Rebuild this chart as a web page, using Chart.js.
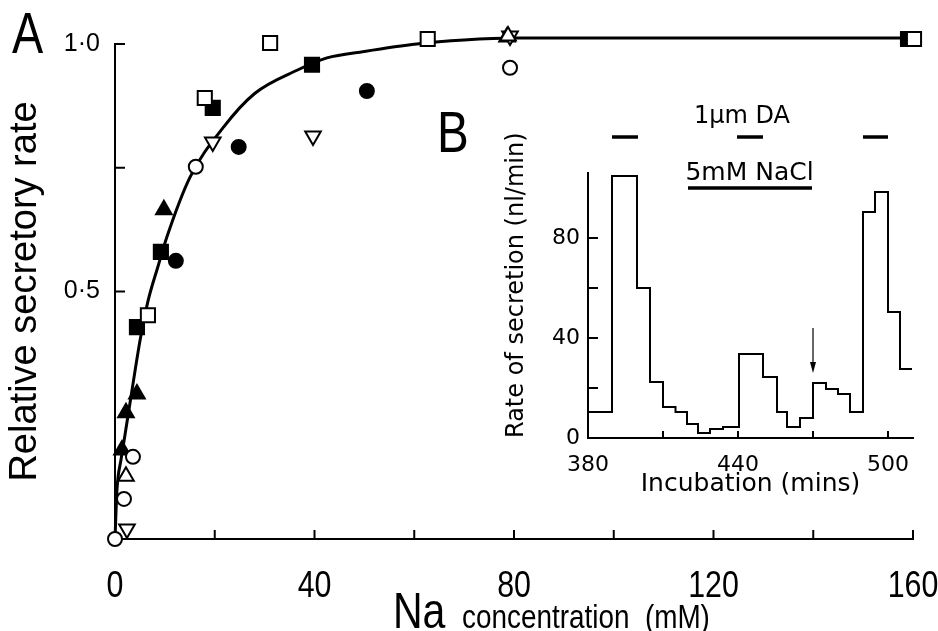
<!DOCTYPE html>
<html><head><meta charset="utf-8">
<script src="https://cdn.jsdelivr.net/npm/chart.js@4.4.1/dist/chart.umd.min.js"></script>
<style>
html,body{margin:0;padding:0;background:#fff;}
#wrap{position:relative;width:938px;height:631px;overflow:hidden;background:#fff;}
#main{position:absolute;left:0;top:0;}
#inset{position:absolute;left:480px;top:95px;}
</style></head><body>
<div id="wrap">
<canvas id="main" width="938" height="631"></canvas>
<canvas id="inset" width="458" height="410"></canvas>
</div>
<script>
// ================= Panel A data (Na concentration, mM vs relative secretory rate) =================
const openSquareX   = [6.6, 18.0, 31.1, 62.7, 160.2];
const openSquareY   = [0.452, 0.891, 1.002, 1.010, 1.010];
const filledSquareX = [4.4, 9.2, 19.6, 39.5, 159.0];
const filledSquareY = [0.428, 0.580, 0.871, 0.958, 1.010];
const filledCircleX = [12.2, 24.8, 50.5];
const filledCircleY = [0.562, 0.792, 0.905];
const openCircleX   = [0.0, 1.8, 3.6, 16.2, 79.2];
const openCircleY   = [0.000, 0.081, 0.166, 0.752, 0.952];
const openTriUpX    = [2.2, 78.8];
const openTriUpY    = [0.127, 1.016];
const openTriDownX  = [2.4, 19.6, 39.7, 79.2];
const openTriDownY  = [0.020, 0.802, 0.814, 1.016];
const filledTriX    = [1.4, 2.2, 4.4, 9.8, 78.6];
const filledTriY    = [0.180, 0.255, 0.293, 0.665, 1.014];
// fitted curve
const curveX = [0, 0.4, 1.2, 2.0, 3.4, 5.0, 6.6, 8.6, 10.4, 15.0, 21.6, 28.0, 36.5, 42.5, 50, 60.5, 70, 80, 100, 130, 160];
const curveY = [0, 0.10, 0.16, 0.21, 0.30, 0.40, 0.48, 0.55, 0.61, 0.73, 0.83, 0.90, 0.947, 0.972, 0.985, 1.0, 1.008, 1.012, 1.012, 1.012, 1.012];
const xTickLabelsA = [0, 40, 80, 120, 160];
const yTickLabelsA = {0.5: '0·5', 1: '1·0'};
const yTickMarksA = [0.5, 0.75, 1.0];
const xTitleBig = 'Na';
const xTitleSmall = 'concentration  (mM)';
const yTitleA = 'Relative secretory rate';
const panelA = 'A', panelB = 'B';

// ================= Panel B data (incubation, mins vs rate of secretion) =================
const stepStart = [380, 389.6, 399.6, 404.8, 410, 415, 419.6, 424, 428.8, 434, 440.4, 450, 455.6, 459.6, 464.8, 470, 475.2, 480, 484.8, 490, 494.8, 500, 504.8, 509.6];
const stepRate  = [10.4, 104.8, 60, 22.4, 12.4, 10.4, 5.6, 2, 3.6, 4.4, 33.6, 24.4, 10.4, 4.4, 8, 22, 19.6, 17.6, 10.4, 90.4, 98.4, 50.4, 27.6, 27.6];
const daStart = [389.6, 439.6, 490];
const daEnd   = [400, 450, 500];
const daLevel = 120.4;
const daLabel = '1μm DA';
const daLabelPos = [441.6, 129.6];
const naclStart = 420, naclEnd = 469.6, naclLevel = 100;
const naclLabel = '5mM NaCl';
const naclLabelPos = [444.6, 107];
const arrowX = 470, arrowFrom = 44, arrowTo = 26;
const xTickMarksB = [380, 410, 440, 470, 500];
const xTickLabelsB = [380, 440, 500];
const yTickLabelsB = [0, 40, 80];
const xTitleB = 'Incubation (mins)';
const yTitleB = 'Rate of secretion (nl/min)';

// ================= helpers =================
const SANS = "'Liberation Sans', Arial, sans-serif";
const WIDE = "'DejaVu Sans', sans-serif";
const NARROW_K = 0.82;
function pts(xs, ys) { return xs.map((x, i) => ({x: x, y: ys[i]})); }
function markers(label, xs, ys, style, filled, rot, r) {
  return {
    label: label, data: pts(xs, ys), showLine: false, clip: false, order: 1,
    pointStyle: style, pointRotation: rot || 0, pointRadius: r, pointHoverRadius: r,
    pointBackgroundColor: filled ? '#000' : '#fff', pointBorderColor: '#000', pointBorderWidth: 2
  };
}
function seg(ctx, x1, y1, x2, y2) { ctx.beginPath(); ctx.moveTo(x1, y1); ctx.lineTo(x2, y2); ctx.stroke(); }
// condensed sans text (Helvetica-narrow look of the original)
function narrowText(ctx, text, x, y, size, align) {
  ctx.save();
  ctx.font = size + 'px ' + SANS;
  ctx.translate(x, y); ctx.scale(NARROW_K, 1);
  ctx.textAlign = align; ctx.textBaseline = 'alphabetic';
  ctx.fillText(text, 0, 0);
  ctx.restore();
}

// ================= Panel A chart =================
const mainPlugin = {
  id: 'mainDecor',
  afterDraw(chart) {
    const {ctx, chartArea: a} = chart;
    const x = chart.scales.x, y = chart.scales.y;
    ctx.save();
    ctx.strokeStyle = '#000'; ctx.fillStyle = '#000'; ctx.lineWidth = 2;
    x.ticks.forEach(t => { if (t.value <= 0) return; const px = x.getPixelForValue(t.value); seg(ctx, px, a.bottom, px, a.bottom - 9); });
    yTickMarksA.forEach(v => { const py = y.getPixelForValue(v); seg(ctx, a.left, py, a.left + 10, py); });
    // x tick labels in condensed face
    xTickLabelsA.forEach(v => narrowText(ctx, String(v), x.getPixelForValue(v), a.bottom + 58, 37, 'center'));
    narrowText(ctx, panelA, 12, 53, 57, 'left');
    narrowText(ctx, panelB, 437, 152, 58, 'left');
    narrowText(ctx, xTitleBig, 393, 628, 50, 'left');
    narrowText(ctx, xTitleSmall, 462, 628, 34, 'left');
    ctx.restore();
  }
};

new Chart(document.getElementById('main'), {
  type: 'scatter',
  data: {
    datasets: [
      markers('open square', openSquareX, openSquareY, 'rect', false, 0, 10),
      markers('filled square', filledSquareX, filledSquareY, 'rect', true, 0, 10),
      markers('filled circle', filledCircleX, filledCircleY, 'circle', true, 0, 7),
      markers('open circle', openCircleX, openCircleY, 'circle', false, 0, 7),
      markers('open triangle', openTriUpX, openTriUpY, 'triangle', false, 0, 9),
      markers('open inverted triangle', openTriDownX, openTriDownY, 'triangle', false, 180, 9),
      markers('filled triangle', filledTriX, filledTriY, 'triangle', true, 0, 9),
      { label: 'fit', data: pts(curveX, curveY), showLine: true, pointRadius: 0, borderColor: '#000',
        borderWidth: 3, cubicInterpolationMode: 'monotone', clip: false, order: 10 }
    ]
  },
  options: {
    responsive: false, animation: false, devicePixelRatio: 1,
    layout: { autoPadding: false, padding: { left: 0, top: 44, right: 25, bottom: 0 } },
    plugins: { legend: { display: false }, tooltip: { enabled: false } },
    scales: {
      x: {
        type: 'linear', min: 0, max: 160,
        afterFit(s) { s.height = 92; },
        border: { display: true, color: '#000', width: 2 },
        grid: { display: false, drawTicks: false },
        ticks: { display: false, stepSize: 20, autoSkip: false, maxRotation: 0 }
      },
      y: {
        type: 'linear', min: 0, max: 1,
        afterFit(s) { s.width = 115; },
        border: { display: true, color: '#000', width: 2 },
        grid: { display: false, drawTicks: false },
        ticks: { stepSize: 0.25, padding: 15, color: '#000', font: { family: SANS, size: 25 },
          callback: v => yTickLabelsA[v] || '' },
        title: { display: true, text: yTitleA, color: '#000', font: { family: SANS, size: 38 }, padding: { top: 3, bottom: 0 } }
      }
    }
  },
  plugins: [mainPlugin]
});

// ================= Panel B (inset) chart =================
const insetPlugin = {
  id: 'insetDecor',
  afterDraw(chart) {
    const {ctx, chartArea: a} = chart;
    const x = chart.scales.x, y = chart.scales.y;
    ctx.save();
    ctx.strokeStyle = '#000'; ctx.fillStyle = '#000'; ctx.lineWidth = 2;
    y.ticks.forEach(t => { if (t.value <= 0 || t.value % 20 !== 0) return; const py = y.getPixelForValue(t.value); seg(ctx, a.left, py, a.left + 10, py); });
    x.ticks.forEach(t => { if (t.value <= 380) return; const px = x.getPixelForValue(t.value); seg(ctx, px, a.bottom, px, a.bottom - 7); });
    ctx.lineWidth = 3.5;
    daStart.forEach((s, i) => { const py = y.getPixelForValue(daLevel); seg(ctx, x.getPixelForValue(s), py, x.getPixelForValue(daEnd[i]), py); });
    const ny = y.getPixelForValue(naclLevel);
    seg(ctx, x.getPixelForValue(naclStart), ny, x.getPixelForValue(naclEnd), ny);
    ctx.textAlign = 'center'; ctx.textBaseline = 'alphabetic';
    ctx.font = '24px ' + WIDE;
    ctx.fillText(daLabel, x.getPixelForValue(daLabelPos[0]), y.getPixelForValue(daLabelPos[1]) + 9);
    ctx.font = '25px ' + WIDE;
    ctx.fillText(naclLabel, x.getPixelForValue(naclLabelPos[0]), y.getPixelForValue(naclLabelPos[1]) + 9);
    // arrow
    const ax = x.getPixelForValue(arrowX), ay1 = y.getPixelForValue(arrowFrom), ay2 = y.getPixelForValue(arrowTo);
    ctx.lineWidth = 1.2; seg(ctx, ax, ay1, ax, ay2 - 6);
    ctx.beginPath(); ctx.moveTo(ax - 3, ay2 - 11); ctx.lineTo(ax + 3, ay2 - 11); ctx.lineTo(ax, ay2); ctx.closePath(); ctx.fill();
    ctx.restore();
  }
};

new Chart(document.getElementById('inset'), {
  type: 'scatter',
  data: {
    datasets: [
      { label: 'secretion', data: pts(stepStart, stepRate), showLine: true, stepped: true, pointRadius: 0,
        borderColor: '#000', borderWidth: 2, clip: false }
    ]
  },
  options: {
    responsive: false, animation: false, devicePixelRatio: 1,
    layout: { autoPadding: false, padding: { left: 0, top: 78, right: 25, bottom: 0 } },
    plugins: { legend: { display: false }, tooltip: { enabled: false } },
    scales: {
      x: {
        type: 'linear', min: 380, max: 510,
        afterFit(s) { s.height = 67; },
        afterBuildTicks(s) { s.ticks = xTickMarksB.map(v => ({value: v})); },
        border: { display: true, color: '#000', width: 2 },
        grid: { display: false, drawTicks: false },
        ticks: { autoSkip: false, maxRotation: 0, padding: 14, color: '#000',
          font: { family: WIDE, size: 22 },
          callback: v => xTickLabelsB.includes(v) ? String(v) : '' },
        title: { display: true, text: xTitleB, color: '#000', font: { family: WIDE, size: 25 }, padding: { top: 0, bottom: 6 } }
      },
      y: {
        type: 'linear', min: 0, max: 106,
        afterFit(s) { s.width = 108; },
        border: { display: true, color: '#000', width: 2 },
        grid: { display: false, drawTicks: false },
        ticks: { stepSize: 20, padding: 8, color: '#000', font: { family: WIDE, size: 22 },
          callback: v => yTickLabelsB.includes(v) ? String(v) : '' },
        title: { display: true, text: yTitleB, align: 'start', color: '#000', font: { family: WIDE, size: 24 }, padding: { top: 22, bottom: 0 } }
      }
    }
  },
  plugins: [insetPlugin]
});
</script>
</body></html>
